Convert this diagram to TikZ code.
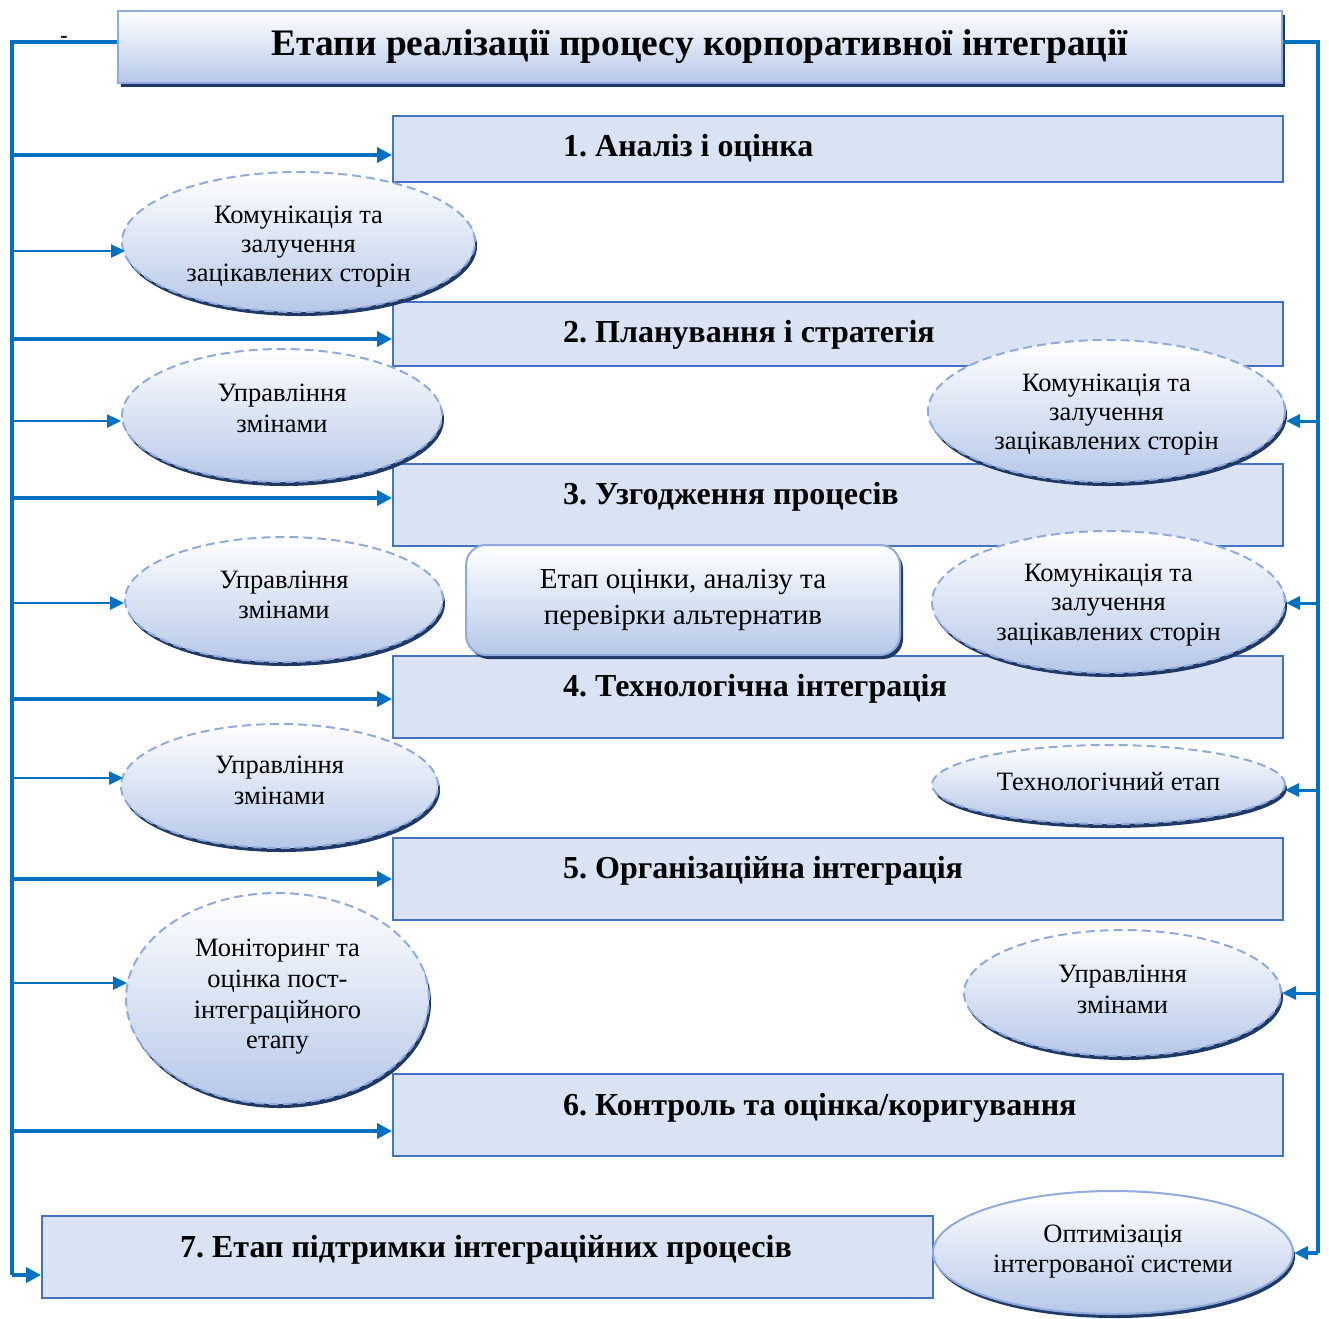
\documentclass[tikz,border=0pt]{standalone}
\usepackage{fontspec}
\setmainfont{Liberation Serif}
\frenchspacing
\usetikzlibrary{shapes.geometric,arrows.meta,shadows}
\definecolor{lineblue}{RGB}{0,112,192}
\definecolor{boxfill}{RGB}{218,227,243}
\definecolor{boxdraw}{RGB}{68,114,196}
\definecolor{lightdraw}{RGB}{143,170,220}
\definecolor{gradbot}{RGB}{182,200,232}
\definecolor{gradmid}{RGB}{222,230,245}
\definecolor{shadowc}{RGB}{32,56,100}
\tikzset{
  stepbox/.style={draw=boxdraw, fill=boxfill, line width=2pt, anchor=north west, inner sep=0pt},
  steptext/.style={font=\fontsize{32}{36}\selectfont\bfseries, anchor=mid west, inner sep=0pt},
  ovaltext/.style={align=center, inner sep=0pt, font=\fontsize{26.5}{30}\selectfont},
  oval/.style={ellipse, draw=lightdraw, line width=2pt, dash pattern=on 9pt off 5pt,
    top color=white, middle color=gradmid, bottom color=gradbot, inner sep=0pt,
    drop shadow={shadow xshift=2pt, shadow yshift=-4pt, fill=shadowc, opacity=1}},
  solidoval/.style={oval, solid},
  trunk/.style={draw=lineblue, line width=3.5pt},
  thickarr/.style={draw=lineblue, line width=4pt, -{Triangle[length=15pt,width=15pt]}},
  thinarr/.style={draw=lineblue, line width=2.5pt, -{Triangle[length=14pt,width=13pt]}},
}
\begin{document}
\begin{tikzpicture}[x=1pt,y=-1pt]
\useasboundingbox (0,0) rectangle (1329,1318);
% title
\node[draw=lightdraw, line width=2pt, top color=white, middle color=gradmid, bottom color=gradbot,
  minimum width=1164pt, minimum height=72pt, inner sep=0pt,
  drop shadow={shadow xshift=3pt, shadow yshift=-4pt, fill=shadowc, opacity=1},
  font=\fontsize{37.4}{40}\selectfont\bfseries] (title) at (700,47)
  {Етапи реалізації процесу корпоративної інтеграції};
\node[font=\fontsize{22}{22}\selectfont\bfseries, inner sep=0pt] (dash) at (64,39) {-};
% step boxes
\node[stepbox, minimum width=890pt, minimum height=66pt] (b1) at (392,115) {};
\node[stepbox, minimum width=890pt, minimum height=64pt] (b2) at (392,301) {};
\node[stepbox, minimum width=890pt, minimum height=82pt] (b3) at (392,463) {};
\node[stepbox, minimum width=890pt, minimum height=82pt] (b4) at (392,655) {};
\node[stepbox, minimum width=890pt, minimum height=82pt] (b5) at (392,837) {};
\node[stepbox, minimum width=890pt, minimum height=82pt] (b6) at (392,1073) {};
\node[stepbox, minimum width=891pt, minimum height=82pt] (b7) at (41,1215) {};
\node[steptext] (t1) at (563,154) {1. Аналіз і оцінка};
\node[steptext] (t2) at (563,340) {2. Планування і стратегія};
\node[steptext] (t3) at (563,502) {3. Узгодження процесів};
\node[steptext] (t4) at (563,694) {4. Технологічна інтеграція};
\node[steptext] (t5) at (563,876) {5. Організаційна інтеграція};
\node[steptext] (t6) at (563,1113) {6. Контроль та оцінка/коригування};
\node[steptext, anchor=mid] (t7) at (486,1255) {7. Етап підтримки інтеграційних процесів};
% ellipses left
\node[oval, minimum width=353pt, minimum height=140pt,
  label={[ovaltext, font=\fontsize{26.5}{29}\selectfont, yshift=-5pt]center:Комунікація та\\залучення\\зацікавлених сторін}] (e1) at (298.5,242) {};
\node[oval, minimum width=320pt, minimum height=133pt,
  label={[ovaltext, font=\fontsize{26.5}{31}\selectfont, yshift=7pt]center:Управління\\змінами}] (e2) at (282,415.5) {};
\node[oval, minimum width=318pt, minimum height=125pt,
  label={[ovaltext, yshift=4.5pt]center:Управління\\змінами}] (e3) at (284,599.5) {};
\node[oval, minimum width=317pt, minimum height=124pt,
  label={[ovaltext, font=\fontsize{26.5}{31}\selectfont, yshift=5.5pt]center:Управління\\змінами}] (e4) at (279.5,786) {};
\node[oval, minimum width=303pt, minimum height=211pt,
  label={[ovaltext, font=\fontsize{26.5}{30.7}\selectfont, yshift=1.5pt]center:Моніторинг та\\оцінка пост-\\інтеграційного\\етапу}] (e5) at (277.5,998.5) {};
% ellipses right
\node[oval, minimum width=357pt, minimum height=142pt,
  label={[ovaltext, font=\fontsize{26.5}{29}\selectfont, yshift=-4pt]center:Комунікація та\\залучення\\зацікавлених сторін}] (r1) at (1106.5,411) {};
\node[oval, minimum width=353pt, minimum height=142pt,
  label={[ovaltext, font=\fontsize{26.5}{29.5}\selectfont, yshift=-3pt]center:Комунікація та\\залучення\\зацікавлених сторін}] (r2) at (1108.5,602) {};
\node[oval, minimum width=353pt, minimum height=79pt,
  label={[ovaltext, yshift=2.5pt]center:Технологічний етап}] (r3) at (1108.5,784.5) {};
\node[oval, minimum width=317pt, minimum height=126pt,
  label={[ovaltext, font=\fontsize{26.5}{31}\selectfont, yshift=3.5pt]center:Управління\\змінами}] (r4) at (1122.5,993) {};
\node[solidoval, minimum width=360pt, minimum height=123pt,
  label={[ovaltext, yshift=0.5pt]center:Оптимізація\\інтегрованої системи}] (r5) at (1113,1252.5) {};
% rounded box
\node[draw=lightdraw, line width=2pt, rounded corners=20pt, top color=white, middle color=gradmid, bottom color=gradbot,
  minimum width=434pt, minimum height=110pt, inner sep=0pt, align=center,
  drop shadow={shadow xshift=3pt, shadow yshift=-4pt, fill=shadowc, opacity=1},
  font=\fontsize{29}{36}\selectfont] (alt) at (683,600)
  {Етап оцінки, аналізу та\\перевірки альтернатив};
% left trunk
\coordinate (lt) at (12,42);
\coordinate (lb) at (12,1275);
\draw[trunk] (lt -| title.west) -- (lt) -- (lb);
\draw[thickarr] (lb) -- (lb -| b7.west);
\foreach \yy/\nn in {155/b1,339/b2,498/b3,699/b4,879/b5,1131/b6}{
  \draw[thickarr] (12,\yy) -- (\nn.west |- 0,\yy);
}
\coordinate (la1) at (12,251);
\coordinate (la2) at (12,421);
\coordinate (la3) at (12,603);
\coordinate (la4) at (12,778);
\coordinate (la5) at (12,983);
\draw[thinarr] (la1) -- (125,251);
\draw[thinarr] (la2) -- (la2 -| e2.west);
\draw[thinarr] (la3) -- (la3 -| e3.west);
\draw[thinarr] (la4) -- (123,778);
\draw[thinarr] (la5) -- (127,983);
% right trunk
\coordinate (rt) at (1318,42);
\coordinate (rb) at (1318,1253);
\draw[trunk] (rt -| title.east) -- (rt) -- (rb);
\draw[thinarr, line width=3.5pt] (rb) -- (rb -| r5.east);
\coordinate (ra1) at (1318,421);
\coordinate (ra2) at (1318,603);
\coordinate (ra3) at (1318,790);
\coordinate (ra4) at (1318,993);
\draw[thinarr, line width=3pt] (ra1) -- (1286,421);
\draw[thinarr, line width=3pt] (ra2) -- (ra2 -| r2.east);
\draw[thinarr, line width=3pt] (ra3) -- (1285,790);
\draw[thinarr, line width=3pt] (ra4) -- (ra4 -| r4.east);
\end{tikzpicture}
\end{document}
